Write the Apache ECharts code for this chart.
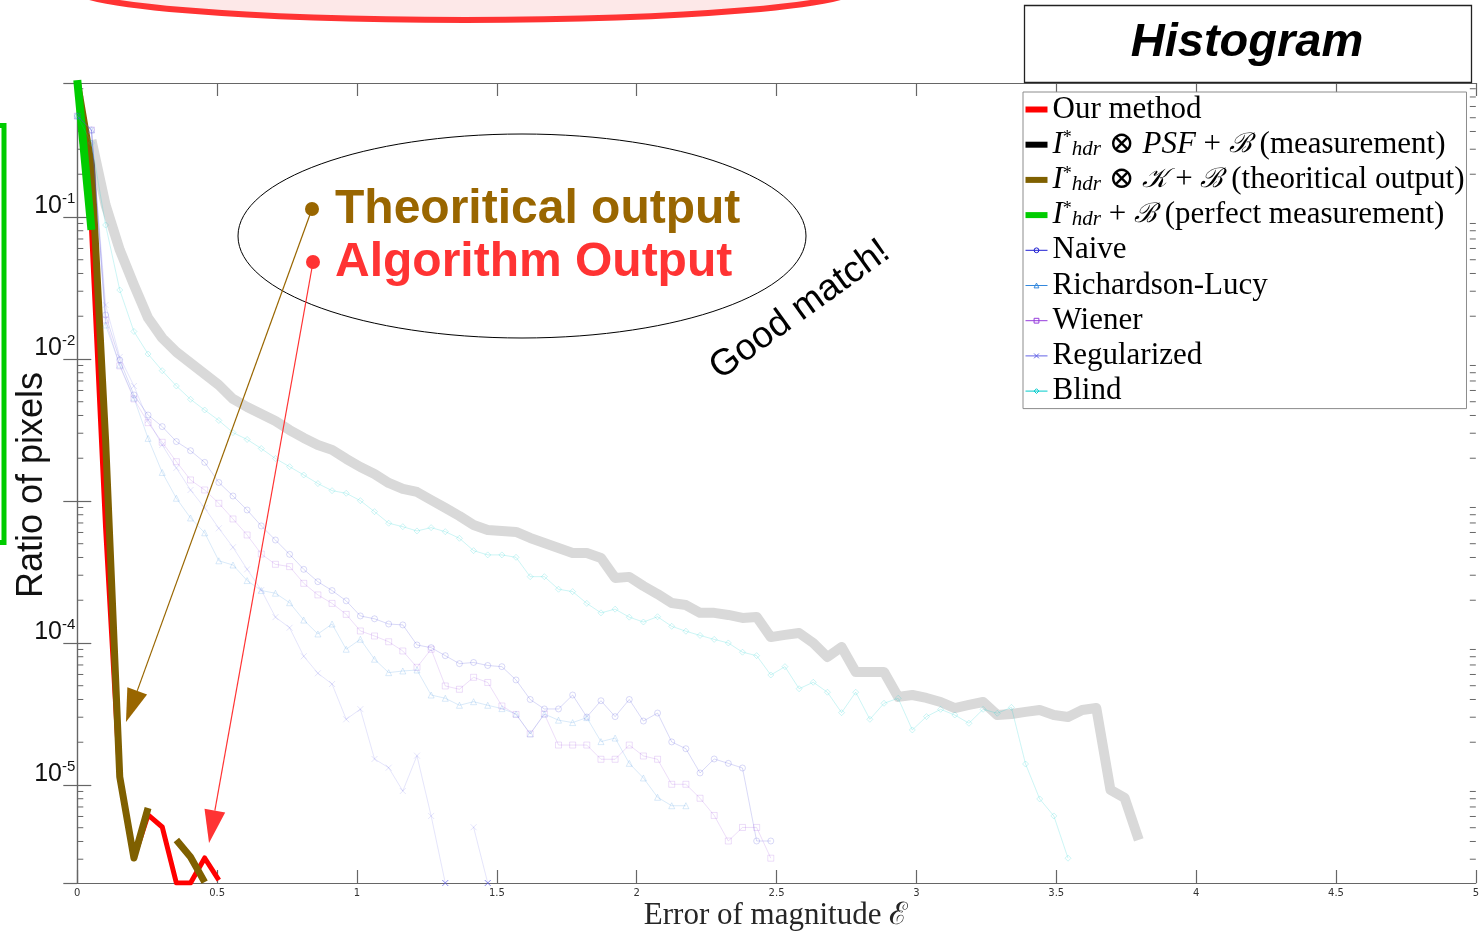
<!DOCTYPE html>
<html>
<head>
<meta charset="utf-8">
<title>Histogram</title>
<script src="https://cdn.jsdelivr.net/npm/echarts@6/dist/echarts.min.js"></script>
<style>
  html, body { margin: 0; padding: 0; background: #fff; }
  #chart { width: 1482px; height: 932px; }
</style>
</head>
<body>
<div id="chart"></div>
<script>
// Histogram bin centres (error of magnitude)
const binCentres = [
  0, 0.0506, 0.1012, 0.1518, 0.2024, 0.253, 0.3036, 0.3542, 0.4048, 0.4554,
  0.506, 0.5566, 0.6072, 0.6578, 0.7084, 0.759, 0.8096, 0.8602, 0.9108, 0.9614,
  1.012, 1.0626, 1.1132, 1.1638, 1.2144, 1.265, 1.3156, 1.3662, 1.4168, 1.4674,
  1.518, 1.5686, 1.6192, 1.6698, 1.7204, 1.771, 1.8216, 1.8722, 1.9228, 1.9734,
  2.024, 2.0746, 2.1252, 2.1758, 2.2264, 2.277, 2.3276, 2.3782, 2.4288, 2.4794,
  2.53, 2.5806, 2.6312, 2.6818, 2.7324, 2.783, 2.8336, 2.8842, 2.9348, 2.9854,
  3.036, 3.0866, 3.1372, 3.1878, 3.2384, 3.289, 3.3396, 3.3902, 3.4408, 3.4914,
  3.542, 3.5926, 3.6432, 3.6938, 3.7444, 3.795
];

// Ratio of pixels in each bin (null = empty bin)
const ourMethod = [0.9, 0.0837, 6.45e-4, 1.12e-5, 3.06e-6, 6.15e-6, 5.06e-6, 2.04e-6, 2.04e-6, 3.06e-6, 2.14e-6];

const measurement = [
  null, 0.348, 0.1215, 0.0586, 0.0332, 0.01944, 0.01405, 0.0112, 0.00937, 0.00784,
  0.00656, 0.00523, 0.00459, 0.0041, 0.00366, 0.00316, 0.00278, 0.00248, 0.00229, 0.00198,
  0.001735, 0.00155, 0.00134, 0.001215, 0.001157, 0.001016, 8.93e-4, 7.84e-4, 6.78e-4, 6.25e-4,
  6.15e-4, 6.05e-4, 5.49e-4, 5.06e-4, 4.67e-4, 4.3e-4, 4.3e-4, 3.97e-4, 2.87e-4, 2.92e-4,
  2.52e-4, 2.21e-4, 1.91e-4, 1.85e-4, 1.63e-4, 1.63e-4, 1.575e-4, 1.5e-4, 1.524e-4, 1.1e-4,
  1.14e-4, 1.176e-4, 1.0e-4, 7.97e-5, 9.37e-5, 6.25e-5, 6.25e-5, 6.25e-5, 4.17e-5, 4.3e-5,
  4.1e-5, 3.84e-5, 3.48e-5, 3.66e-5, 3.84e-5, 3.11e-5, 3.16e-5, 3.27e-5, 3.37e-5, 3.11e-5,
  3.01e-5, 3.37e-5, 3.48e-5, 9.22e-6, 8.1e-6, 4.1e-6
];

const theoretical = [0.9, 0.232, 0.00269, 1.14e-5, 3.06e-6, 6.89e-6, null, 4.1e-6, 3.11e-6, 2.07e-6];

const perfect = [0.92, 0.081];

const naive = [
  0.514, 0.41, 0.0204, 0.00984, 0.00558, 0.00403, 0.00334, 0.00262, 0.00226, 0.00187,
  0.00135, 0.001084, 8.64e-4, 6.67e-4, 5.31e-4, 4.21e-4, 3.3e-4, 2.7e-4, 2.34e-4, 1.98e-4,
  1.55e-4, 1.48e-4, 1.36e-4, 1.34e-4, 9.68e-5, 9.27e-5, 8.14e-5, 7.15e-5, 7.29e-5, 6.94e-5,
  6.81e-5, 5.49e-5, 4.0e-5, 3.43e-5, 3.43e-5, 4.3e-5, 3.01e-5, 3.92e-5, 3.03e-5, 4.0e-5,
  2.82e-5, 3.21e-5, 2.01e-5, 1.8e-5, 1.215e-5, 1.524e-5, 1.42e-5, 1.317e-5, 4.03e-6, 4.03e-6
];

const richardsonLucy = [
  0.514, 0.41, 0.01736, 0.00907, 0.00531, 0.00276, 0.001588, 0.001045, 7.59e-4, 5.97e-4,
  3.79e-4, 3.54e-4, 2.75e-4, 2.34e-4, 2.24e-4, 1.92e-4, 1.45e-4, 1.157e-4, 1.36e-4, 9.03e-5,
  1.062e-4, 7.68e-5, 6.18e-5, 6.35e-5, 6.45e-5, 4.3e-5, 4.08e-5, 3.64e-5, 3.86e-5, 3.64e-5,
  3.45e-5, 3.16e-5, 2.29e-5, 3.16e-5, 2.86e-5, 2.75e-5, 2.98e-5, 2.02e-5, 2.14e-5, 1.42e-5,
  1.12e-5, 8.19e-6, 7.14e-6, 7.14e-6
];

const wiener = [
  0.514, 0.41, 0.0188, 0.00893, 0.00523, 0.00356, 0.00259, 0.00189, 0.001406, 0.001195,
  9.63e-4, 7.47e-4, 5.76e-4, 4.23e-4, 3.58e-4, 3.45e-4, 2.63e-4, 2.18e-4, 1.9e-4, 1.59e-4,
  1.215e-4, 1.12e-4, 1.02e-4, 8.78e-5, 6.74e-5, 9.03e-5, 4.98e-5, 4.72e-5, 5.73e-5, 5.27e-5,
  3.6e-5, 3.14e-5, 2.29e-5, 3.16e-5, 1.91e-5, 1.91e-5, 1.91e-5, 1.517e-5, 1.517e-5, 1.91e-5,
  1.6e-5, 1.517e-5, 1.011e-5, 1.011e-5, 8.06e-6, 6.1e-6, 4.03e-6, 5.02e-6, 5.02e-6, 3.05e-6
];

const regularized = [
  0.514, 0.41, 0.024, 0.01033, 0.00645, 0.00372, 0.00248, 0.001708, 0.001195, 8.93e-4,
  6.42e-4, 4.72e-4, 3.3e-4, 2.36e-4, 1.52e-4, 1.28e-4, 8.06e-5, 6.12e-5, 5.14e-5, 2.9e-5,
  3.42e-5, 1.524e-5, 1.323e-5, 9.07e-6, 1.608e-5, 6.05e-6, 2.04e-6, null, 5.04e-6, 2.04e-6
];

const blind = [
  0.514, 0.332, 0.0878, 0.0306, 0.01562, 0.01084, 0.00827, 0.00645, 0.0052, 0.00437,
  0.00369, 0.00303, 0.00271, 0.00234, 0.00199, 0.001743, 0.001524, 0.001326, 0.001182, 0.001133,
  0.001005, 8.41e-4, 6.97e-4, 6.59e-4, 6.15e-4, 6.49e-4, 6.08e-4, 5.46e-4, 4.47e-4, 4.17e-4,
  4.17e-4, 4.01e-4, 2.93e-4, 2.93e-4, 2.39e-4, 2.3e-4, 1.9e-4, 1.63e-4, 1.73e-4, 1.52e-4,
  1.405e-4, 1.53e-4, 1.31e-4, 1.21e-4, 1.13e-4, 1.06e-4, 1.0e-4, 8.61e-5, 8.14e-5, 5.95e-5,
  6.81e-5, 4.76e-5, 5.29e-5, 4.5e-5, 3.23e-5, 4.5e-5, 2.9e-5, 3.76e-5, 4.08e-5, 2.44e-5,
  3.03e-5, 3.41e-5, 3.11e-5, 2.72e-5, 3.41e-5, 3.2e-5, 3.52e-5, 1.405e-5, 7.97e-6, 6.05e-6,
  3.05e-6
];

// Axis ranges, labelled decades and log minor-tick multipliers
const xRange = [0, 5];
const xTickStep = 0.5;
const yRange = [2.04e-6, 0.878];
const yLabelledDecades = [-5, -4, -2, -1];
const yTickDecades = [-6, -5, -4, -3, -2, -1];
const minorMultipliers = [2, 3, 4, 5, 6, 7, 8, 9];

// Annotation arrow tips (data coordinates)
const theoryArrowTip = [0.174, 2.78e-5];
const algorithmArrowTip = [0.471, 3.9e-6];

const SERIF = "'Liberation Serif', 'DejaVu Serif', serif";
const SANS = "'Liberation Sans', Arial, sans-serif";

function toPoints(values) {
  return values.map((v, i) => [binCentres[i], v == null ? null : v]);
}

function thickLine(name, values, color, width) {
  return {
    name, type: 'line', data: toPoints(values), symbol: 'none',
    lineStyle: { color, width, cap: 'butt', join: 'round' },
    itemStyle: { color }, clip: true, silent: true, animation: false
  };
}

function markerLine(name, values, rgb, alpha, symbol) {
  const faded = `rgba(${rgb},${alpha})`;
  const data = toPoints(values).map(p => {
    // points sitting on the axis floor get a stronger marker
    if (p[1] !== null && p[1] <= yRange[0]) {
      return { value: p, itemStyle: { borderColor: `rgba(${rgb},0.75)` } };
    }
    return p;
  });
  return {
    name, type: 'line', data, symbol, symbolSize: 6, showSymbol: true,
    lineStyle: { color: faded, width: 1 },
    itemStyle: { color: 'transparent', borderColor: faded, borderWidth: 1 },
    clip: true, silent: true, animation: false
  };
}

const CROSS = 'path://M0,0L10,10M0,10L10,0';

const seriesColors = {
  ours: '#ff0000', meas: '#000000', theo: '#7f6000', perf: '#00cc00',
  naive: '30,30,210', rl: '51,136,221', wiener: '150,60,220', reg: '100,100,230', blind: '0,204,204'
};

// Minor ticks of the log axis: 2..9 within each decade, inside the axis range
const minorTickValues = [];
yTickDecades.forEach(d => minorMultipliers.forEach(m => {
  const v = m * Math.pow(10, d);
  if (v > yRange[0] && v < yRange[1]) minorTickValues.push(v);
}));

const minorTickSeries = {
  type: 'custom', silent: true, clip: false, z: 3, animation: false,
  data: minorTickValues.map(v => [xRange[0], v]),
  renderItem: function (params, api) {
    const v = api.value(1);
    const l = api.coord([xRange[0], v]);
    const r = api.coord([xRange[1], v]);
    const st = { stroke: '#666', lineWidth: 1 };
    return {
      type: 'group', children: [
        { type: 'line', shape: { x1: l[0], y1: l[1], x2: l[0] + 6, y2: l[1] }, style: st },
        { type: 'line', shape: { x1: r[0], y1: r[1], x2: r[0] - 6, y2: r[1] }, style: st }
      ]
    };
  }
};

const series = [
  thickLine('Our method', ourMethod, seriesColors.ours, 5),
  thickLine('Measurement', measurement, '#d9d9d9', 10),
  thickLine('Theoritical output', theoretical, seriesColors.theo, 7),
  thickLine('Perfect measurement', perfect, seriesColors.perf, 8),
  markerLine('Naive', naive, seriesColors.naive, 0.17, 'circle'),
  markerLine('Richardson-Lucy', richardsonLucy, seriesColors.rl, 0.18, 'triangle'),
  markerLine('Wiener', wiener, seriesColors.wiener, 0.17, 'rect'),
  markerLine('Regularized', regularized, seriesColors.reg, 0.17, CROSS),
  markerLine('Blind', blind, seriesColors.blind, 0.2, 'diamond'),
  minorTickSeries
];

const legendLabels = {
  'Our method': '{n|Our method}',
  'Measurement': '{i|I}{sp|*}{sb|hdr}{n| ⊗ }{i|PSF}{n| + }{c|ℬ}{n| (measurement)}',
  'Theoritical output': '{i|I}{sp|*}{sb|hdr}{n| ⊗ }{c|𝒦}{n| + }{c|ℬ}{n| (theoritical output)}',
  'Perfect measurement': '{i|I}{sp|*}{sb|hdr}{n| + }{c|ℬ}{n| (perfect measurement)}',
  'Naive': '{n|Naive}',
  'Richardson-Lucy': '{n|Richardson-Lucy}',
  'Wiener': '{n|Wiener}',
  'Regularized': '{n|Regularized}',
  'Blind': '{n|Blind}'
};

function barItem(name, color) {
  return { name, icon: 'rect', itemStyle: { color, borderWidth: 0 } };
}
function markItem(name, rgb) {
  const c = `rgb(${rgb})`;
  return {
    name,
    lineStyle: { color: c, width: 1, opacity: 1 },
    itemStyle: { color: 'transparent', borderColor: c, borderWidth: 1, opacity: 1 }
  };
}

function yAxisDef(position, showLabels) {
  return {
    type: 'log', logBase: 10, position, min: yRange[0], max: yRange[1],
    axisLine: { show: true, lineStyle: { color: '#666', width: 1.2 } },
    axisTick: { show: true, inside: true, length: 14, lineStyle: { color: '#666', width: 1.2 } },
    minorTick: { show: false },
    splitLine: { show: false }, minorSplitLine: { show: false },
    axisLabel: {
      show: showLabels, showMinLabel: false, showMaxLabel: false, margin: 2,
      padding: [0, 0, 22, 0],
      formatter: function (v) {
        const lg = Math.log10(v);
        const e = Math.round(lg);
        if (Math.abs(lg - e) > 1e-6 || yLabelledDecades.indexOf(e) < 0) return '';
        return '{b|10}{s|' + e + '}';
      },
      rich: {
        b: { fontFamily: SANS, fontSize: 25, lineHeight: 30, color: '#111' },
        s: { fontFamily: SANS, fontSize: 15, lineHeight: 15, verticalAlign: 'top', color: '#111' }
      }
    }
  };
}

function xAxisDef(position, showLabels) {
  return {
    type: 'value', position, min: xRange[0], max: xRange[1], interval: xTickStep,
    axisLine: { show: true, onZero: false, lineStyle: { color: '#666', width: 1.2 } },
    axisTick: { show: true, inside: true, length: 13, lineStyle: { color: '#666', width: 1.2 } },
    splitLine: { show: false },
    axisLabel: { show: showLabels, fontFamily: "'DejaVu Sans', sans-serif", fontSize: 10, color: '#333', margin: 5 }
  };
}

const chart = echarts.init(document.getElementById('chart'), null, { renderer: 'canvas' });

const option = {
  animation: false,
  backgroundColor: '#fff',
  grid: { left: 77.3, right: 6, top: 83, bottom: 49, containLabel: false },
  xAxis: [xAxisDef('bottom', true), xAxisDef('top', false)],
  yAxis: [yAxisDef('left', true), yAxisDef('right', false)],
  legend: {
    left: 1023, top: 92, orient: 'vertical',
    itemWidth: 22, itemHeight: 6, itemGap: 4.2,
    padding: [2, 2, 2, 2],
    backgroundColor: '#fff', borderColor: '#8c8c8c', borderWidth: 1,
    selectedMode: false,
    data: [
      barItem('Our method', seriesColors.ours),
      barItem('Measurement', seriesColors.meas),
      barItem('Theoritical output', seriesColors.theo),
      barItem('Perfect measurement', seriesColors.perf),
      markItem('Naive', seriesColors.naive),
      markItem('Richardson-Lucy', seriesColors.rl),
      markItem('Wiener', seriesColors.wiener),
      markItem('Regularized', seriesColors.reg),
      markItem('Blind', seriesColors.blind)
    ],
    formatter: name => legendLabels[name],
    textStyle: {
      color: '#000',
      rich: {
        n: { fontFamily: SERIF, fontSize: 31, lineHeight: 30, color: '#000' },
        i: { fontFamily: SERIF, fontSize: 31, lineHeight: 30, fontStyle: 'italic', color: '#000' },
        c: { fontFamily: SERIF, fontSize: 27, lineHeight: 30, fontStyle: 'italic', color: '#000' },
        sp: { fontFamily: SERIF, fontSize: 18, lineHeight: 18, verticalAlign: 'top', color: '#000' },
        sb: { fontFamily: SERIF, fontSize: 21, lineHeight: 12, verticalAlign: 'bottom', fontStyle: 'italic', color: '#000' }
      }
    }
  },
  series
};

chart.setOption(option);

// Annotations drawn over the plot
function arrow(from, tip, color, lineWidth) {
  const dx = tip[0] - from[0], dy = tip[1] - from[1];
  const len = Math.hypot(dx, dy);
  const ux = dx / len, uy = dy / len;
  const headLen = 33, halfW = 10.5;
  const bx = tip[0] - ux * headLen, by = tip[1] - uy * headLen;
  const nx = -uy, ny = ux;
  return [
    { type: 'line', z: 60, shape: { x1: from[0], y1: from[1], x2: bx, y2: by }, style: { stroke: color, lineWidth } },
    { type: 'polygon', z: 60, shape: { points: [[tip[0], tip[1]], [bx + nx * halfW, by + ny * halfW], [bx - nx * halfW, by - ny * halfW]] }, style: { fill: color } }
  ];
}

const theoryTipPx = chart.convertToPixel({ gridIndex: 0 }, theoryArrowTip);
const algoTipPx = chart.convertToPixel({ gridIndex: 0 }, algorithmArrowTip);

const graphics = [
  // pink ellipse running off the top edge
  { type: 'ellipse', z: 50, shape: { cx: 465, cy: -13, rx: 395, ry: 33 }, style: { fill: '#fde8e8', stroke: '#ff3333', lineWidth: 6 } },
  // green frame running off the left edge
  { type: 'rect', z: 50, shape: { x: -60, y: 125.5, width: 64, height: 417 }, style: { fill: 'none', stroke: '#00cc00', lineWidth: 5 } },
  // title box
  { type: 'rect', z: 50, shape: { x: 1024.5, y: 5.5, width: 447, height: 77 }, style: { fill: '#fff', stroke: '#222', lineWidth: 1.3 } },
  { type: 'text', z: 51, x: 1247, y: 43, style: { text: 'Histogram', fontFamily: SANS, fontSize: 47, fontWeight: 'bold', fontStyle: 'italic', fill: '#000', align: 'center', verticalAlign: 'middle' } },
  // callout ellipse with two bullet labels
  { type: 'ellipse', z: 55, shape: { cx: 522, cy: 236, rx: 284, ry: 102 }, style: { fill: 'none', stroke: '#000', lineWidth: 1 } },
  { type: 'circle', z: 56, shape: { cx: 312, cy: 209, r: 7 }, style: { fill: '#996600' } },
  { type: 'circle', z: 56, shape: { cx: 313, cy: 262, r: 7 }, style: { fill: '#ff3333' } },
  { type: 'text', z: 56, x: 335, y: 210, style: { text: 'Theoritical output', fontFamily: SANS, fontSize: 48, fontWeight: 'bold', fill: '#996600', align: 'left', verticalAlign: 'middle' } },
  { type: 'text', z: 56, x: 335, y: 263, style: { text: 'Algorithm Output', fontFamily: SANS, fontSize: 48, fontWeight: 'bold', fill: '#ff3333', align: 'left', verticalAlign: 'middle' } },
  ...arrow([312, 209], theoryTipPx, '#996600', 1.2),
  ...arrow([313, 262], algoTipPx, '#ff3333', 1.2),
  { type: 'text', z: 56, x: 800, y: 310, rotation: 0.625, style: { text: 'Good match!', fontFamily: SANS, fontSize: 37, fill: '#000', align: 'center', verticalAlign: 'middle' } },
  // axis titles
  { type: 'text', z: 50, x: 32, y: 485, rotation: Math.PI / 2, style: { text: 'Ratio of pixels', fontFamily: SANS, fontSize: 36, fill: '#111', align: 'center', verticalAlign: 'middle' } },
  { type: 'text', z: 50, x: 776, y: 916, style: { text: 'Error of magnitude ℰ', fontFamily: SERIF, fontSize: 31, fill: '#262626', align: 'center', verticalAlign: 'middle' } }
];

chart.setOption({ graphic: { elements: graphics } });
</script>
</body>
</html>
